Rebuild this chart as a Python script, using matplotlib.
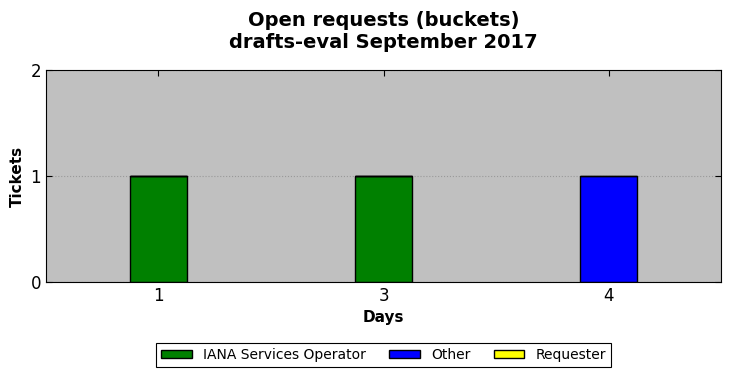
import numpy as np
import matplotlib.pyplot as plt

days = ['1', '3', '4']
iana = [1, 1, 0]
other = [0, 0, 1]
requester = [0, 0, 0]

fig = plt.figure(figsize=(7.3, 3.78), dpi=100)
ax = fig.add_axes([0.063, 0.254, 0.9247, 0.561])
ax.set_facecolor('#c0c0c0')

x = np.arange(len(days))
w = 0.25
ax.bar(x, iana, w, color='green', edgecolor='black', label='IANA Services Operator')
ax.bar(x, other, w, bottom=iana, color='blue', edgecolor='black', label='Other')
bottom2 = np.array(iana) + np.array(other)
ax.bar(x, requester, w, bottom=bottom2, color='yellow', edgecolor='black', label='Requester')

ax.set_xlim(-0.5, len(days) - 0.5)
ax.set_ylim(0, 2)
ax.set_xticks(x)
ax.set_xticklabels(days)
ax.set_yticks([0, 1, 2])
ax.tick_params(direction='in', top=True, right=True, labelsize=12, length=4)
ax.yaxis.grid(True, linestyle=':', color='#999999', linewidth=0.8)
ax.set_axisbelow(True)

ax.set_xlabel('Days', fontsize=11, fontweight='bold')
ax.set_ylabel('Tickets', fontsize=11, fontweight='bold')
ax.set_title('Open requests (buckets)\ndrafts-eval September 2017', fontsize=14, fontweight='bold', pad=16)

leg = ax.legend(loc='upper center', bbox_to_anchor=(0.5, -0.255), ncol=3, fontsize=10,
                fancybox=False, framealpha=1, edgecolor='black', handlelength=2.2,
                handleheight=0.6, columnspacing=1.7, borderpad=0.35)
leg.get_frame().set_linewidth(0.8)

fig.savefig('out.png', dpi=100)
